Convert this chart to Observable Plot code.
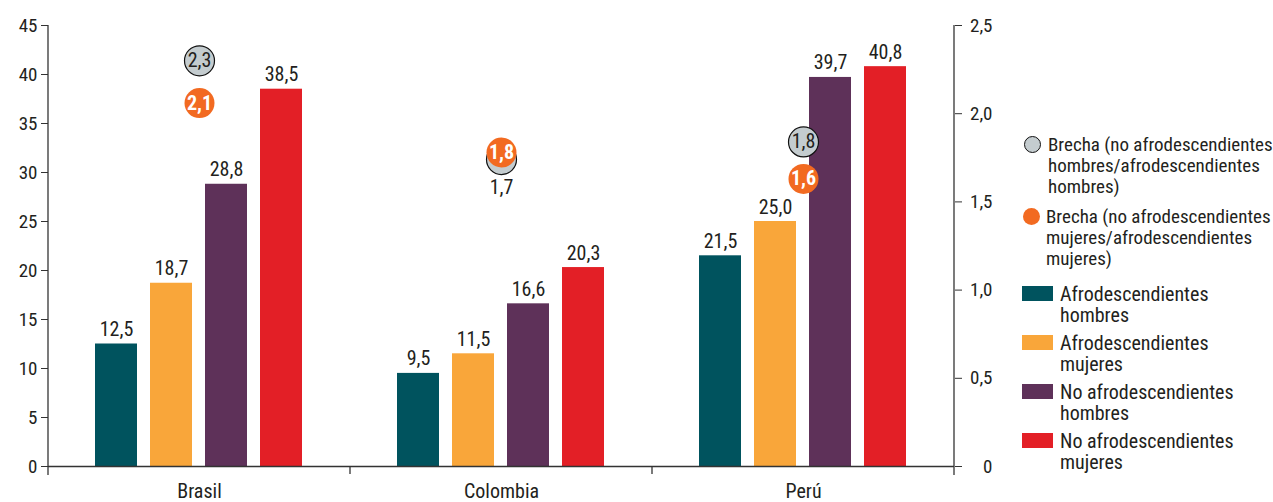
<!DOCTYPE html>
<html>
<head>
<meta charset="utf-8">
<script src="https://cdn.jsdelivr.net/npm/d3@7"></script>
<script src="https://cdn.jsdelivr.net/npm/@observablehq/plot@0.6"></script>
<style>
  html, body { margin: 0; padding: 0; background: #fff; }
  #wrap { position: relative; width: 1273px; height: 502px; overflow: hidden; font-family: "Roboto Condensed", "Roboto", sans-serif; color: #231F20; }
  #chart { position: absolute; left: 0; top: 0; }
  .lg { position: absolute; width: 300px; display: flex; align-items: flex-start; font-size: 20px; line-height: 21px; }
</style>
</head>
<body>
<div id="wrap">
  <div id="chart"></div>
  <div id="legend"></div>
</div>
<script>
// ---- data ----
const countries = ["Brasil", "Colombia", "Perú"];
const seriesNames = [
  "Afrodescendientes hombres",
  "Afrodescendientes mujeres",
  "No afrodescendientes hombres",
  "No afrodescendientes mujeres"
];
const seriesColors = ["#00535E", "#F9A63A", "#5E3159", "#E31F26"];
const afroHombres   = [12.5, 9.5, 21.5];
const afroMujeres   = [18.7, 11.5, 25.0];
const noAfroHombres = [28.8, 16.6, 39.7];
const noAfroMujeres = [38.5, 20.3, 40.8];
// gaps (right axis), as positioned in the picture
const brechaHombres = [2.3, 1.74, 1.84];
const brechaMujeres = [2.06, 1.78, 1.63];
const brechaNames = [
  "Brecha (no afrodescendientes hombres/afrodescendientes hombres)",
  "Brecha (no afrodescendientes mujeres/afrodescendientes mujeres)"
];
const brechaColors = ["#C4CCCF", "#F26A21"];
const leftTicks = [0, 5, 10, 15, 20, 25, 30, 35, 40, 45];
const rightTicks = [0, 0.5, 1.0, 1.5, 2.0, 2.5];
const rightTickLabels = ["0", "0,5", "1,0", "1,5", "2,0", "2,5"];

// ---- derived tables ----
const seriesValues = [afroHombres, afroMujeres, noAfroHombres, noAfroMujeres];
const bars = [];
countries.forEach((c, i) => seriesNames.forEach((s, j) => bars.push({country: c, series: s, value: seriesValues[j][i]})));
const k = leftTicks[leftTicks.length - 1] / rightTicks[rightTicks.length - 1]; // right-axis to left-axis factor
const gaps = countries.map((c, i) => ({
  country: c, men: brechaHombres[i], women: brechaMujeres[i],
  overlap: Math.abs(brechaHombres[i] - brechaMujeres[i]) < 0.1
}));
const fmt = v => v.toFixed(1).replace(".", ",");

const FONT = '"Roboto Condensed", "Roboto", sans-serif';
const INK = "#231F20";

const chart = Plot.plot({
  width: 1010,
  height: 502,
  marginTop: 25,
  marginBottom: 36,
  marginLeft: 47,
  marginRight: 56,
  style: {fontFamily: FONT, fontSize: "19px", color: INK, background: "white", overflow: "visible"},
  fx: {domain: countries, padding: 0, axis: null, label: null},
  x: {domain: seriesNames, paddingInner: 0.236, paddingOuter: 0.863, axis: null, label: null},
  y: {domain: [0, 45], axis: null, label: null},
  color: {domain: seriesNames, range: seriesColors},
  marks: [
    Plot.barY(bars, {fx: "country", x: "series", y: "value", fill: "series"}),
    Plot.text(bars, {fx: "country", x: "series", y: "value", text: d => fmt(d.value),
      lineAnchor: "bottom", dy: -8, fontSize: 20, fill: INK}),
    Plot.ruleY([0], {stroke: "#333", strokeWidth: 1.3}),
    Plot.axisY({anchor: "left", label: null, ticks: leftTicks, tickSize: 7, tickPadding: 4,
      fontSize: 19, stroke: "#333", fill: INK, tickFormat: d => String(d)}),
    Plot.axisY({anchor: "right", label: null, ticks: rightTicks.map(v => v * k), tickSize: 7, tickPadding: 31,
      textAnchor: "end", fontSize: 19, stroke: "#333", fill: INK,
      tickFormat: d => rightTickLabels[rightTicks.findIndex(v => Math.abs(v * k - d) < 1e-6)]}),
    Plot.axisFx({anchor: "bottom", label: null, tickSize: 0, tickPadding: 17, fontSize: 20, fill: INK}),
    // gap dots
    Plot.dot(gaps, {fx: "country", y: d => d.men * k, r: 15, fill: brechaColors[0], stroke: "#111", strokeWidth: 1.2}),
    Plot.text(gaps.filter(d => !d.overlap), {fx: "country", y: d => d.men * k, text: d => fmt(d.men), fontSize: 20, fill: INK}),
    Plot.text(gaps.filter(d => d.overlap), {fx: "country", y: d => d.men * k, text: d => fmt(d.men), fontSize: 20, fill: INK, dy: 28}),
    Plot.dot(gaps, {fx: "country", y: d => d.women * k, r: 15, fill: brechaColors[1], stroke: null}),
    Plot.text(gaps, {fx: "country", y: d => d.women * k, text: d => fmt(d.women), fontSize: 20, fontWeight: "bold", fill: "white"})
  ]
});
document.getElementById("chart").appendChild(chart);

// axis lines and group separators, placed with the plot's own scales
const fxS = chart.scale("fx"), yS = chart.scale("y");
const svg = d3.select(chart);
const y0 = yS.apply(0), yTop = yS.apply(45);
const edges = countries.map(c => fxS.apply(c));
edges.push(edges[edges.length - 1] + fxS.bandwidth);
edges.forEach((x, i) => {
  const outer = i === 0 || i === edges.length - 1;
  svg.append("line")
    .attr("x1", x).attr("x2", x)
    .attr("y1", outer ? yTop : y0).attr("y2", y0 + (outer ? 9 : 8))
    .attr("stroke", "#333").attr("stroke-width", 1.3);
});

// ---- legend (HTML) ----
const legend = document.getElementById("legend");
const circTops = [134, 206];
brechaNames.forEach((name, i) => {
  const it = document.createElement("div");
  it.className = "lg";
  it.style.left = (i === 0 ? 1024 : 1023) + "px";
  it.style.top = circTops[i] + "px";
  it.style.fontSize = "19px";
  const sw = document.createElement("div");
  sw.style.cssText = `width:17px;height:17px;border-radius:50%;background:${brechaColors[i]};box-sizing:border-box;${i === 0 ? "border:1.5px solid #111;" : ""}margin-top:2px;margin-right:${i === 0 ? 7 : 6}px;flex:none;`;
  const tx = document.createElement("div");
  tx.style.maxWidth = "240px";
  tx.textContent = name;
  it.appendChild(sw); it.appendChild(tx);
  legend.appendChild(it);
});
const sqTops = [284, 333, 382, 431];
seriesNames.forEach((name, i) => {
  const it = document.createElement("div");
  it.className = "lg";
  it.style.left = "1022px";
  it.style.top = sqTops[i] + "px";
  it.style.lineHeight = "20.5px";
  const sw = document.createElement("div");
  sw.style.cssText = `width:31px;height:15px;background:${seriesColors[i]};margin-top:2px;margin-right:7px;flex:none;`;
  const tx = document.createElement("div");
  tx.style.maxWidth = "200px";
  tx.textContent = name;
  it.appendChild(sw); it.appendChild(tx);
  legend.appendChild(it);
});
</script>
</body>
</html>
